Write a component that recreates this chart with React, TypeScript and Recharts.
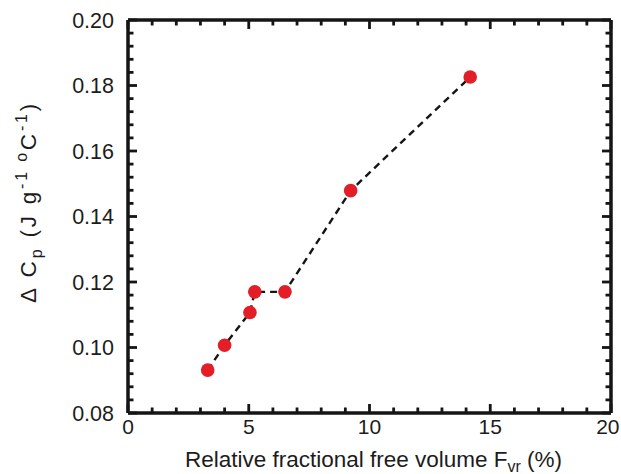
import React from 'react';
import { ScatterChart, Scatter, XAxis, YAxis, Label } from 'recharts';

// Data
const freeVolume = [3.3, 4.0, 5.05, 5.25, 6.5, 9.22, 14.17];
const deltaCp = [0.0931, 0.1007, 0.1107, 0.117, 0.117, 0.1479, 0.1826];

// Tick labels (major) and number of minor intervals between majors
const xMajorTicks = [0, 5, 10, 15, 20];
const yMajorTicks = [0.08, 0.1, 0.12, 0.14, 0.16, 0.18, 0.2];
const xMinorDivisions = 5;
const yMinorDivisions = 5;

const data = freeVolume.map((x, i) => ({ x, y: deltaCp[i] }));

function withMinor(majors: number[], div: number): number[] {
  const out: number[] = [];
  for (let i = 0; i < majors.length - 1; i++) {
    const a = majors[i];
    const b = majors[i + 1];
    for (let k = 0; k < div; k++) out.push(+(a + ((b - a) * k) / div).toFixed(6));
  }
  out.push(majors[majors.length - 1]);
  return out;
}

const xTicks = withMinor(xMajorTicks, xMinorDivisions);
const yTicks = withMinor(yMajorTicks, yMinorDivisions);
const isMajor = (v: number, majors: number[]) => majors.some((m) => Math.abs(m - v) < 1e-6);

const FONT = '"Liberation Sans", Arial, Helvetica, sans-serif';
const INK = '#151515';
const TEXT = '#1c1c1c';
const MAJOR_LEN = 9;
const MINOR_LEN = 5.5;
const TICK_W = 2.8;
const AXIS_W = 3.5;
const CHART_W = 621;
const X_TICK_FONT = 21;

const BottomTick = (p: any) => {
  const { x, y, payload } = p;
  const major = isMajor(payload.value, xMajorTicks);
  const label = String(payload.value);
  const half = (0.556 * X_TICK_FONT * label.length) / 2;
  const shift = Math.min(0, CHART_W - 1.5 - (x + half));
  return (
    <g>
      <line x1={x} x2={x} y1={y} y2={y - (major ? MAJOR_LEN : MINOR_LEN)} stroke={INK} strokeWidth={TICK_W} />
      {major && (
        <text x={x + shift} y={y + 20.5} textAnchor="middle" fontSize={X_TICK_FONT} fontFamily={FONT} fill={TEXT}>
          {label}
        </text>
      )}
    </g>
  );
};

const TopTick = (p: any) => {
  const { x, y, payload } = p;
  const major = isMajor(payload.value, xMajorTicks);
  return <line x1={x} x2={x} y1={y} y2={y + (major ? MAJOR_LEN : MINOR_LEN)} stroke={INK} strokeWidth={TICK_W} />;
};

const LeftTick = (p: any) => {
  const { x, y, payload } = p;
  const major = isMajor(payload.value, yMajorTicks);
  return (
    <g>
      <line x1={x} x2={x + (major ? MAJOR_LEN : MINOR_LEN)} y1={y} y2={y} stroke={INK} strokeWidth={TICK_W} />
      {major && (
        <text x={x - 14} y={y + 7.5} textAnchor="end" fontSize={21.5} fontFamily={FONT} fill={TEXT}>
          {payload.value.toFixed(2)}
        </text>
      )}
    </g>
  );
};

const RightTick = (p: any) => {
  const { x, y, payload } = p;
  const major = isMajor(payload.value, yMajorTicks);
  return <line x1={x} x2={x - (major ? MAJOR_LEN : MINOR_LEN)} y1={y} y2={y} stroke={INK} strokeWidth={TICK_W} />;
};

const Dot = (p: any) => <circle cx={p.cx} cy={p.cy} r={6.8} fill="#e41e27" />;
const NoDot = () => <g />;

const XTitle = (p: any) => {
  const vb = p.viewBox || { x: 128, width: 483 };
  const cx = vb.x + vb.width / 2 + 4;
  return (
    <text x={cx} y={467} textAnchor="middle" fontSize={22.5} fontFamily={FONT} fill={TEXT}>
      <tspan>Relative fractional free volume  F</tspan>
      <tspan fontSize={16} dy={5}>vr</tspan>
      <tspan dy={-5}> (%)</tspan>
    </text>
  );
};

const YTitle = () => {
  const cx = 36;
  const cy = 202;
  return (
    <text
      x={cx}
      y={cy}
      transform={`rotate(-90 ${cx} ${cy})`}
      textAnchor="middle"
      fontSize={22.5}
      fontFamily={FONT}
      fill={TEXT}
      letterSpacing={2.8}
    >
      <tspan>Δ C</tspan>
      <tspan fontSize={16} dy={6}>p</tspan>
      <tspan dy={-6}>{'  (J g'}</tspan>
      <tspan fontSize={16} dy={-9}>-1</tspan>
      <tspan fontSize={16}> o</tspan>
      <tspan dy={9}>C</tspan>
      <tspan fontSize={16} dy={-9}>-1</tspan>
      <tspan dy={9}>)</tspan>
    </text>
  );
};

export default function App() {
  return (
    <div style={{ position: 'absolute', left: 0, top: 0, background: '#fff' }}>
      <ScatterChart width={CHART_W} height={474} margin={{ top: 19, right: 9, bottom: 0, left: 0 }}>
        <XAxis
          dataKey="x"
          type="number"
          domain={[0, 20]}
          ticks={xTicks}
          interval={0}
          height={61}
          tickSize={0}
          tickMargin={0}
          tickLine={false}
          axisLine={{ stroke: INK, strokeWidth: AXIS_W }}
          tick={(p: any) => <BottomTick {...p} />}
          allowDataOverflow
        >
          <Label content={(p: any) => <XTitle {...p} />} />
        </XAxis>
        <XAxis
          xAxisId="top"
          dataKey="x"
          orientation="top"
          type="number"
          domain={[0, 20]}
          ticks={xTicks}
          interval={0}
          height={1}
          tickSize={0}
          tickMargin={0}
          tickLine={false}
          axisLine={{ stroke: INK, strokeWidth: AXIS_W }}
          tick={(p: any) => <TopTick {...p} />}
          allowDataOverflow
        />
        <YAxis
          dataKey="y"
          type="number"
          domain={[0.08, 0.2]}
          ticks={yTicks}
          interval={0}
          width={128}
          tickSize={0}
          tickMargin={0}
          tickLine={false}
          axisLine={{ stroke: INK, strokeWidth: AXIS_W }}
          tick={(p: any) => <LeftTick {...p} />}
          allowDataOverflow
        >
          <Label content={() => <YTitle />} />
        </YAxis>
        <YAxis
          yAxisId="right"
          dataKey="y"
          orientation="right"
          type="number"
          domain={[0.08, 0.2]}
          ticks={yTicks}
          interval={0}
          width={1}
          tickSize={0}
          tickMargin={0}
          tickLine={false}
          axisLine={{ stroke: INK, strokeWidth: AXIS_W }}
          tick={(p: any) => <RightTick {...p} />}
          allowDataOverflow
        />
        <Scatter
          data={data}
          xAxisId="top"
          yAxisId="right"
          isAnimationActive={false}
          shape={() => <NoDot />}
        />
        <Scatter
          data={data}
          isAnimationActive={false}
          line={{ stroke: INK, strokeWidth: 2.4, strokeDasharray: '7 5' }}
          lineType="joint"
          shape={(p: any) => <Dot {...p} />}
        />
      </ScatterChart>
    </div>
  );
}
